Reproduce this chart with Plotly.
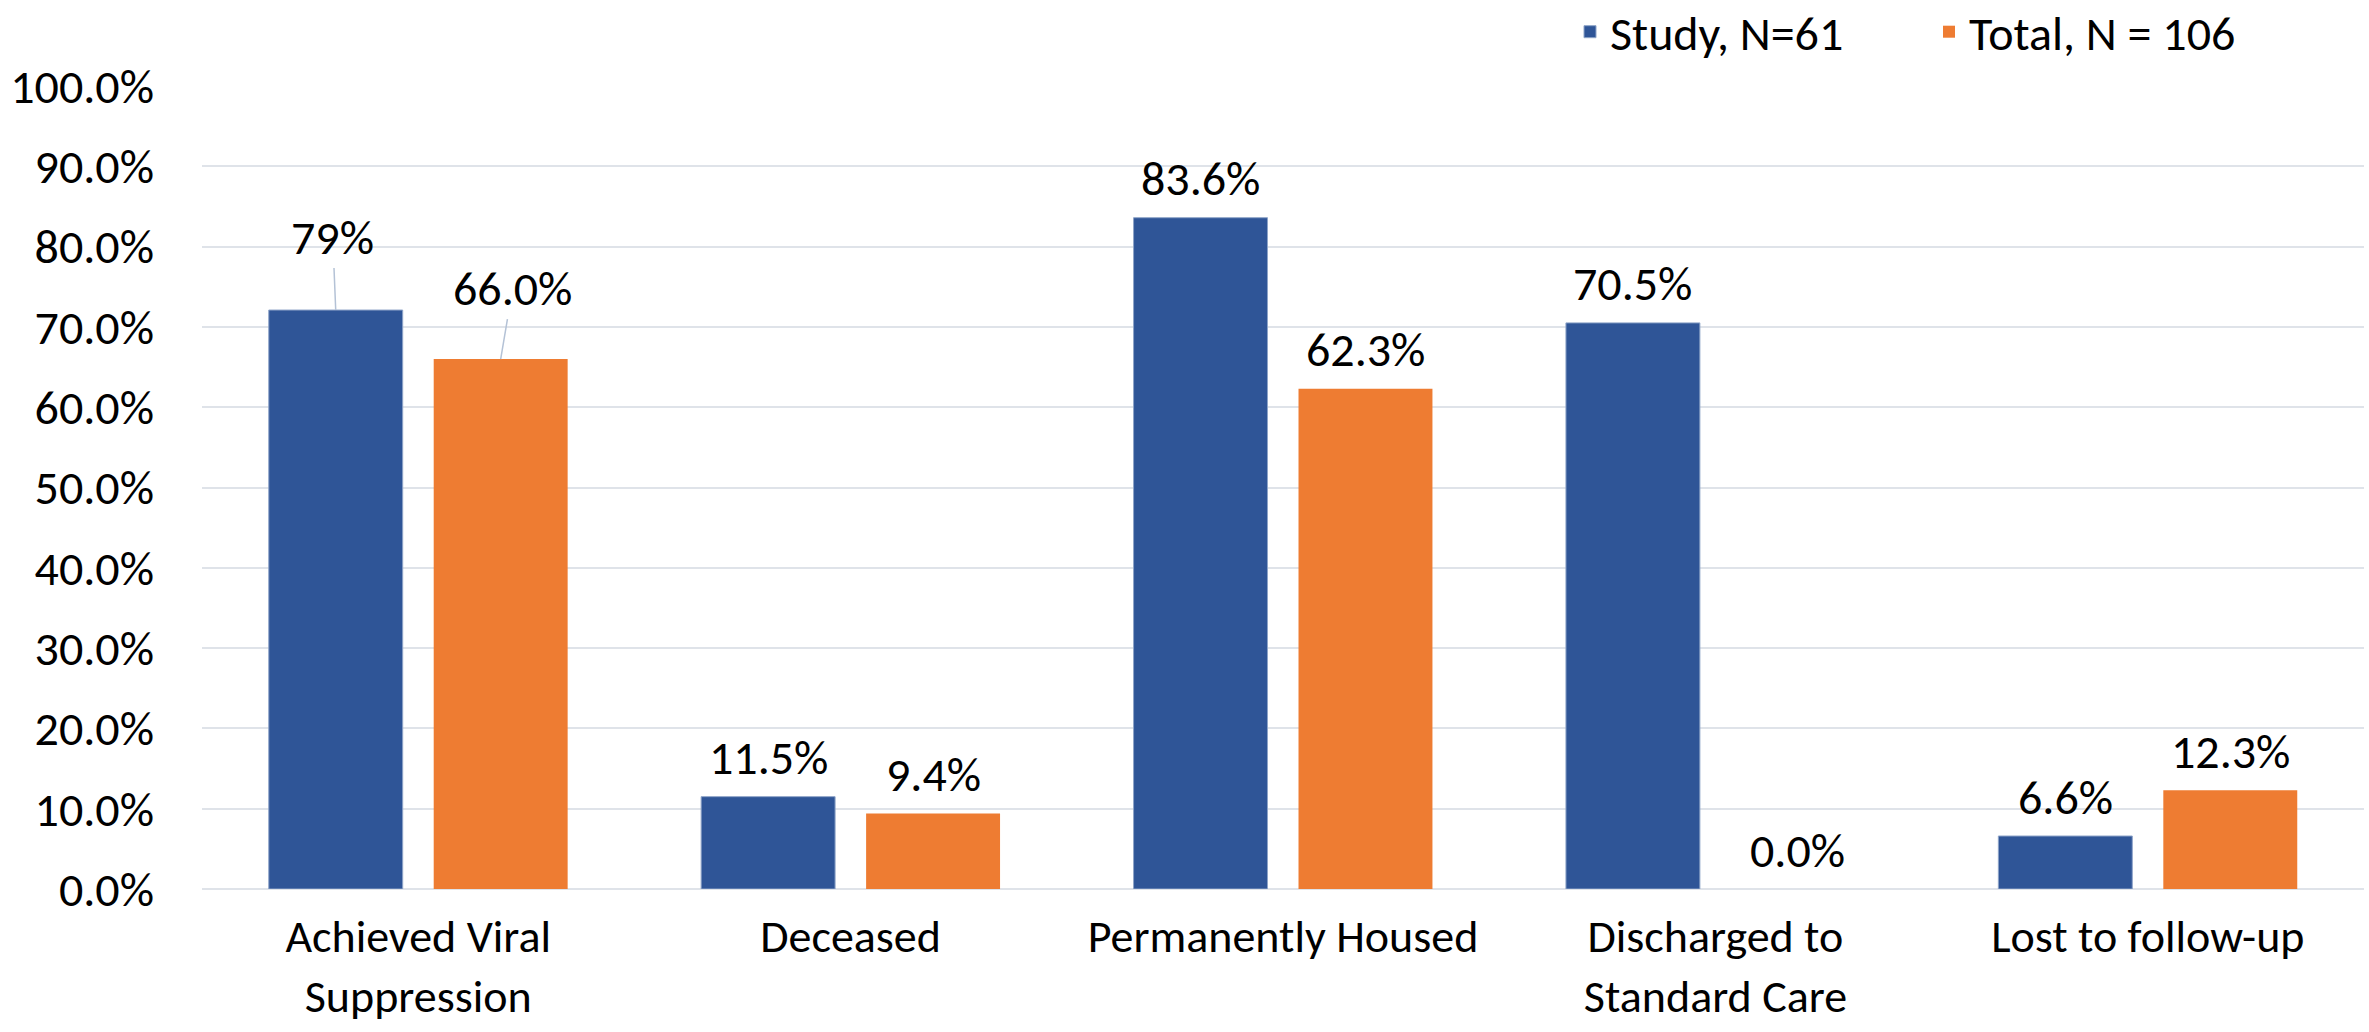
import plotly.graph_objects as go

categories = ["Achieved Viral<br>Suppression", "Deceased", "Permanently Housed",
              "Discharged to<br>Standard Care", "Lost to follow-up"]
study_values = [72.1, 11.5, 83.6, 70.5, 6.6]
total_values = [66.0, 9.4, 62.3, 0.0, 12.3]
study_labels = ["79%", "11.5%", "83.6%", "70.5%", "6.6%"]
total_labels = ["66.0%", "9.4%", "62.3%", "0.0%", "12.3%"]
y_ticks = [0, 10, 20, 30, 40, 50, 60, 70, 80, 90, 100]
y_tick_text = ["0.0%", "10.0%", "20.0%", "30.0%", "40.0%", "50.0%", "60.0%",
               "70.0%", "80.0%", "90.0%", "100.0%"]

W, H = 2369, 1032
ML, MR, MT, MB = 202, 5, 86, 143
BARGAP, BARGROUPGAP = 0.237, 0.188
FONT = "Carlito, Calibri, 'Liberation Sans Narrow', 'Open Sans', sans-serif"
FS = 48
BLUE = "#2F5597"
ORANGE = "#EE7C32"
GRID = "#DFE3E9"
LEADER = "#B4C2D6"

fig = go.Figure()
fig.add_trace(go.Bar(name="Study, N=61", x=categories, y=study_values,
                     marker=dict(color=BLUE, line=dict(color="#8EA4C8", width=1))))
fig.add_trace(go.Bar(name="Total, N = 106", x=categories, y=total_values,
                     marker=dict(color=ORANGE, line=dict(width=0))))

plot_w = W - ML - MR
cat_w = plot_w / len(categories)
slot = cat_w * (1 - BARGAP) / 2
shift = slot / 2

annotations = []
# leader-line labels for the first category
leader = {(0, 0): (-3, -73), (0, 1): (12, -71)}
for i, cat in enumerate(categories):
    for s, (vals, labs) in enumerate([(study_values, study_labels), (total_values, total_labels)]):
        xs = -shift if s == 0 else shift
        if (i, s) in leader:
            ax, ay = leader[(i, s)]
            annotations.append(dict(x=cat, y=vals[i], xref="x", yref="y", xshift=xs,
                                    text=labs[i], showarrow=True, arrowhead=0,
                                    arrowwidth=1.5, arrowcolor=LEADER, ax=ax, ay=ay,
                                    standoff=0, font=dict(family=FONT, size=FS, color="#000")))
        else:
            annotations.append(dict(x=cat, y=vals[i], xref="x", yref="y", xshift=xs,
                                    yshift=39, yanchor="middle", text=labs[i],
                                    showarrow=False,
                                    font=dict(family=FONT, size=FS, color="#000")))

fig.update_layout(
    width=W, height=H,
    margin=dict(l=ML, r=MR, t=MT, b=MB, pad=0, autoexpand=False),
    paper_bgcolor="white", plot_bgcolor="white",
    barmode="group", bargap=BARGAP, bargroupgap=BARGROUPGAP,
    font=dict(family=FONT, size=FS, color="#000"),
    showlegend=True,
    legend=dict(orientation="h", xref="container", yref="container",
                x=1570 / W, y=1 - 32 / H, xanchor="left", yanchor="middle",
                font=dict(family=FONT, size=FS, color="#000"),
                entrywidth=314, entrywidthmode="pixels",
                bgcolor="rgba(0,0,0,0)"),
    annotations=annotations,
    xaxis=dict(showgrid=False, showline=False, ticks="", ticklabelstandoff=16,
               tickfont=dict(family=FONT, size=46, color="#000")),
    yaxis=dict(range=[0, 100], tickvals=y_ticks, ticktext=y_tick_text,
               showgrid=True, gridcolor=GRID, gridwidth=2,
               zeroline=True, zerolinecolor=GRID, zerolinewidth=2,
               showline=False, ticks="", ticklabelstandoff=47,
               tickfont=dict(family=FONT, size=FS, color="#000")),
)

fig.write_html("out.html")
